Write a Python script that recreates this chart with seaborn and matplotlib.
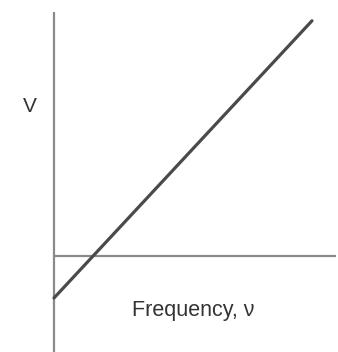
import matplotlib
matplotlib.use("Agg")
import matplotlib.pyplot as plt
import pandas as pd
import seaborn as sns

# Datos: potencial de frenado vs frecuencia (unidades arbitrarias)
frecuencia = [0.0, 6.0]
potencial = [-1.0, 5.6]
eje_x = [0.0, 6.56]     # eje horizontal (V = 0)
eje_y = [-2.3, 5.81]    # eje vertical (nu = 0)

df = pd.DataFrame({"nu": frecuencia, "V": potencial})

sns.set_theme(style="white")
plt.rcParams["font.family"] = ["Liberation Sans", "DejaVu Sans"]

fig = plt.figure(figsize=(3.38, 3.52), dpi=100)
ax = fig.add_axes([0, 0, 1, 1])

# Ejes dibujados a mano
ax.plot(eje_x, [0, 0], color="#8a8a8a", lw=1.6, solid_capstyle="butt")
ax.plot([0, 0], eje_y, color="#8a8a8a", lw=1.6, solid_capstyle="butt")

# Recta
sns.lineplot(data=df, x="nu", y="V", ax=ax, color="#4a4a4a", lw=2.3)

ax.text(-0.56, 3.55, "V", fontsize=15, color="#333333", ha="center", va="center")
ax.text(3.25, -1.3, "Frequency, ν", fontsize=15.5, color="#333333",
        ha="center", va="center")

ax.set_xlim(-1.256, 6.605)
ax.set_ylim(-2.286, 6.095)
ax.set_axis_off()

plt.savefig("out.png", dpi=100)
